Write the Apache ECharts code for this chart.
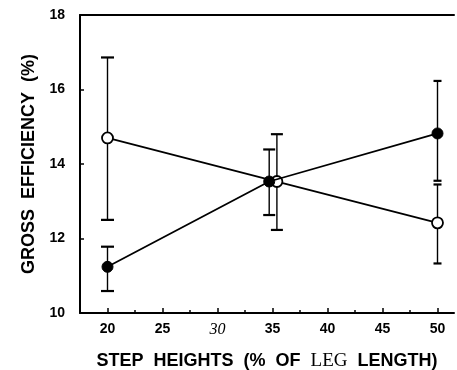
<!DOCTYPE html>
<html><head><meta charset="utf-8">
<script src="https://cdn.jsdelivr.net/npm/echarts@6/dist/echarts.min.js"></script>
<style>html,body{margin:0;padding:0;background:#fff}#c{width:457px;height:370px}</style>
</head><body><div id="c"></div>
<script>
// Step heights (% of leg length)
const xTicks = [20, 25, 30, 35, 40, 45, 50];
const xMinorTicks = [22.5, 27.5, 32.5, 37.5, 42.5, 47.5];
const yTicks = [10, 12, 14, 16, 18];

// Open circles
const openX = [20, 35.4, 50];
const openMean = [14.70, 13.53, 12.42];
const openLow = [12.50, 12.23, 11.33];
const openHigh = [16.86, 14.80, 13.45];

// Filled circles
const filledX = [20, 34.7, 50];
const filledMean = [11.24, 13.53, 14.82];
const filledLow = [10.59, 12.63, 13.55];
const filledHigh = [11.78, 14.39, 16.23];

const capW = [13, 12, 8];

const font = 'Liberation Sans, Arial, sans-serif';
const serif = 'Liberation Serif, Times New Roman, serif';

function errData(xs, lo, hi) {
  return xs.map((x, i) => [x, lo[i], hi[i], capW[i]]);
}
function errSeries(data) {
  return {
    type: 'custom',
    xAxisIndex: 0, yAxisIndex: 0,
    data: data,
    z: 1,
    renderItem: function (params, api) {
      const x = api.value(0);
      const lo = api.coord([x, api.value(1)]);
      const hi = api.coord([x, api.value(2)]);
      const w = api.value(3) / 2;
      const st = { stroke: '#000', lineWidth: 1.4 };
      const cap = { stroke: '#000', lineWidth: 2.2 };
      return {
        type: 'group',
        children: [
          { type: 'line', shape: { x1: lo[0], y1: lo[1], x2: hi[0], y2: hi[1] }, style: st },
          { type: 'line', shape: { x1: lo[0] - w, y1: lo[1], x2: lo[0] + w, y2: lo[1] }, style: cap },
          { type: 'line', shape: { x1: hi[0] - w, y1: hi[1], x2: hi[0] + w, y2: hi[1] }, style: cap }
        ]
      };
    }
  };
}

const chart = echarts.init(document.getElementById('c'), null, { renderer: 'canvas' });
chart.setOption({
  animation: false,
  backgroundColor: '#fff',
  grid: { left: 80, top: 15, right: 3, bottom: 57, containLabel: false, outerBoundsMode: 'none' },
  xAxis: [
    {
      type: 'value', min: 17.5, max: 51.5, position: 'bottom',
      splitLine: { show: false },
      axisLine: { show: true, onZero: false, lineStyle: { color: '#000', width: 2 } },
      axisTick: { show: true, inside: true, length: 5, customValues: xTicks, lineStyle: { color: '#000', width: 1.5 } },
      axisLabel: {
        customValues: xTicks, margin: 9, color: '#000',
        fontFamily: font, fontWeight: 'bold', fontSize: 14,
        formatter: function (v) { return v === 30 ? '{i|30}' : String(v); },
        rich: { i: { fontFamily: serif, fontStyle: 'italic', fontWeight: 'normal', fontSize: 16, color: '#000' } }
      },
      name: '{a|STEP  HEIGHTS  (%  OF  }{b|LEG}{a|  LENGTH)}',
      nameLocation: 'middle', nameGap: 39,
      nameTextStyle: {
        rich: {
          a: { fontFamily: font, fontWeight: 'bold', fontSize: 18, color: '#000' },
          b: { fontFamily: serif, fontWeight: 'normal', fontSize: 19, color: '#000' }
        }
      }
    },
    {
      type: 'value', min: 17.5, max: 51.5, position: 'bottom',
      splitLine: { show: false },
      axisLine: { show: false },
      axisTick: { show: true, inside: true, length: 3, customValues: xMinorTicks, lineStyle: { color: '#000', width: 1.5 } },
      axisLabel: { show: false }
    },
    {
      type: 'value', min: 17.5, max: 51.5, position: 'top',
      splitLine: { show: false },
      axisLine: { show: true, lineStyle: { color: '#000', width: 2 } },
      axisTick: { show: false },
      axisLabel: { show: false }
    }
  ],
  yAxis: {
    type: 'value', min: 10, max: 18, interval: 2,
    splitLine: { show: false },
    axisLine: { show: true, lineStyle: { color: '#000', width: 2 } },
    axisTick: { show: true, inside: true, length: 4, lineStyle: { color: '#000', width: 1.5 } },
    axisLabel: {
      margin: 15, color: '#000', fontFamily: font, fontWeight: 'bold', fontSize: 14,
      customValues: yTicks
    },
    name: 'GROSS  EFFICIENCY  (%)',
    nameLocation: 'middle', nameGap: 39,
    nameTextStyle: { fontFamily: font, fontWeight: 'bold', fontSize: 18, color: '#000' }
  },
  series: [
    errSeries(errData(openX, openLow, openHigh)),
    errSeries(errData(filledX, filledLow, filledHigh)),
    {
      type: 'line', xAxisIndex: 0, yAxisIndex: 0,
      data: openX.map((x, i) => [x, openMean[i]]),
      symbol: 'circle', symbolSize: 11, z: 3,
      lineStyle: { color: '#000', width: 1.8 },
      itemStyle: { color: '#fff', borderColor: '#000', borderWidth: 1.8 }
    },
    {
      type: 'line', xAxisIndex: 0, yAxisIndex: 0,
      data: filledX.map((x, i) => [x, filledMean[i]]),
      symbol: 'circle', symbolSize: 11, z: 4,
      lineStyle: { color: '#000', width: 1.8 },
      itemStyle: { color: '#000', borderColor: '#000', borderWidth: 1 }
    }
  ]
});
</script></body></html>
